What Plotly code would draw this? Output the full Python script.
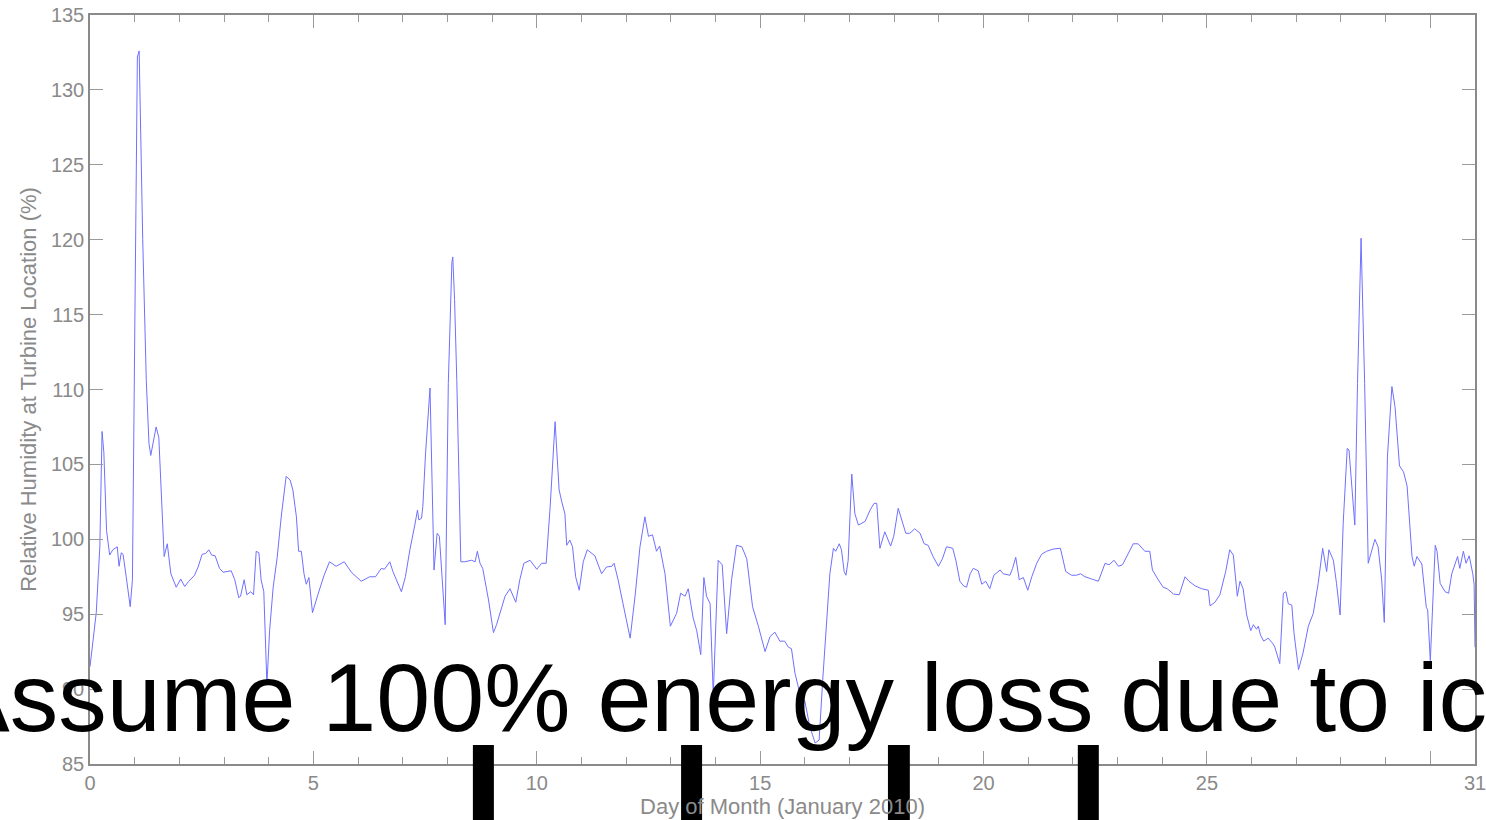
import plotly.graph_objects as go

# Relative humidity at the turbine location, January 2010 (day of month, %)
days = [
    0.00, 0.14, 0.22, 0.27, 0.31, 0.37, 0.44, 0.51, 0.61, 0.65, 0.70, 0.74, 0.81, 0.90, 0.95,
    1.06, 1.10, 1.18, 1.26, 1.32, 1.36, 1.41, 1.48, 1.54, 1.60, 1.66, 1.73, 1.81, 1.93,
    2.03, 2.12, 2.21, 2.34, 2.42, 2.51, 2.59, 2.66, 2.72, 2.80, 2.90, 2.98,
    3.16, 3.24, 3.33, 3.37, 3.45, 3.51, 3.60, 3.66, 3.72, 3.78, 3.83, 3.89, 3.96,
    4.02, 4.10, 4.19, 4.28, 4.39, 4.48, 4.54, 4.62, 4.67, 4.73, 4.79, 4.84, 4.90, 4.98,
    5.10, 5.24, 5.36, 5.51, 5.69, 5.85, 6.07, 6.26, 6.39, 6.52, 6.59, 6.71, 6.78, 6.88, 6.97,
    7.06, 7.16, 7.27, 7.33, 7.36, 7.42, 7.45, 7.51, 7.61, 7.70, 7.77, 7.82, 7.95,
    8.02, 8.10, 8.12, 8.16, 8.21, 8.30, 8.39, 8.54, 8.62, 8.67, 8.73, 8.79, 8.92,
    9.03, 9.10, 9.29, 9.40, 9.53, 9.62, 9.71, 9.85,
    10.00, 10.11, 10.21, 10.30, 10.41, 10.50, 10.56, 10.63, 10.67, 10.74, 10.80, 10.87, 10.95,
    11.04, 11.13, 11.30, 11.45, 11.56, 11.68, 11.73, 11.82, 11.94,
    12.09, 12.20, 12.31, 12.42, 12.50, 12.59, 12.68, 12.75, 12.87, 12.99,
    13.13, 13.22, 13.32, 13.39, 13.50, 13.58, 13.67, 13.74, 13.80, 13.88, 13.95,
    14.06, 14.15, 14.25, 14.36, 14.47, 14.59, 14.70, 14.83, 14.96,
    15.11, 15.22, 15.33, 15.44, 15.55, 15.63, 15.70, 15.78, 15.89,
    16.00, 16.11, 16.23, 16.32, 16.40, 16.49, 16.56, 16.64, 16.69, 16.77, 16.82, 16.88, 16.92, 16.97,
    17.05, 17.12, 17.20, 17.35, 17.46, 17.55, 17.61, 17.68, 17.79, 17.92, 17.99,
    18.09, 18.17, 18.26, 18.35, 18.46, 18.58, 18.67, 18.76, 18.87, 18.99,
    19.08, 19.17, 19.31, 19.38, 19.47, 19.55, 19.62, 19.70, 19.77, 19.88, 19.96,
    20.05, 20.14, 20.23, 20.37, 20.44, 20.59, 20.65, 20.72, 20.80, 20.89, 20.99,
    21.08, 21.19, 21.30, 21.41, 21.56, 21.72, 21.78, 21.84, 21.97,
    22.08, 22.17, 22.27, 22.42, 22.57, 22.72, 22.81, 22.92,
    23.02, 23.11, 23.24, 23.35, 23.46, 23.61, 23.72, 23.78, 23.91,
    24.02, 24.11, 24.25, 24.38, 24.51, 24.60, 24.73, 24.88,
    25.03, 25.07, 25.18, 25.29, 25.42, 25.51, 25.59, 25.68, 25.74, 25.81, 25.89, 25.98,
    26.04, 26.11, 26.15, 26.20, 26.27, 26.37, 26.47, 26.52, 26.63, 26.71, 26.77, 26.82, 26.90, 26.95,
    27.05, 27.15, 27.27, 27.38, 27.49, 27.59, 27.68, 27.73, 27.83, 27.90, 27.98,
    28.05, 28.14, 28.18, 28.31, 28.37, 28.45, 28.53, 28.61, 28.76, 28.83, 28.91, 28.97,
    29.04, 29.14, 29.21, 29.31, 29.40, 29.48, 29.59, 29.64, 29.70, 29.81, 29.91, 29.94,
    30.00, 30.11, 30.15, 30.22, 30.33, 30.41, 30.48, 30.56, 30.61, 30.66, 30.74, 30.80, 30.87,
    30.95, 30.98, 31.00,
]

humidity = [
    91.5, 95.1, 99.5, 107.2, 105.8, 100.6, 98.95, 99.3, 99.5, 98.2, 99.1, 99.0, 97.5, 95.5, 97.3,
    132.2, 132.6, 120.0, 110.6, 106.4, 105.6, 106.3, 107.5, 106.8, 102.2, 98.85, 99.7, 97.7, 96.8,
    97.35, 96.85, 97.2, 97.6, 98.15, 99.0, 99.05, 99.3, 98.95, 98.9, 98.06, 97.8,
    97.9, 97.3, 96.1, 96.2, 97.3, 96.3, 96.5, 96.3, 99.2, 99.1, 97.3, 96.5, 90.3,
    93.9, 96.8, 98.8, 101.5, 104.2, 103.96, 103.3, 101.5, 99.2, 99.2, 97.7, 97.0, 97.45, 95.1,
    96.3, 97.6, 98.5, 98.2, 98.5, 97.8, 97.2, 97.5, 97.5, 98.06, 98.0, 98.5, 97.85, 97.2, 96.5,
    97.5, 99.3, 100.95, 101.95, 101.3, 101.4, 102.2, 105.7, 110.1, 97.95, 100.4, 100.2, 94.3,
    110.4, 118.5, 118.85, 116.0, 110.6, 98.5, 98.5, 98.6, 98.5, 99.2, 98.4, 98.06, 95.95,
    93.77, 94.3, 96.2, 96.7, 95.8, 97.3, 98.4, 98.6,
    98.0, 98.4, 98.4, 102.2, 107.85, 103.3, 102.5, 101.7, 99.6, 99.95, 99.5, 97.5, 96.6,
    98.5, 99.3, 98.9, 97.7, 98.15, 98.2, 98.4, 97.3, 95.5,
    93.4, 96.2, 99.5, 101.5, 100.2, 100.3, 99.2, 99.55, 97.7, 94.2,
    95.06, 96.4, 96.2, 96.7, 94.75, 93.9, 92.3, 97.45, 96.2, 95.7, 89.6,
    98.6, 98.3, 93.7, 97.3, 99.6, 99.5, 98.7, 95.5, 94.2,
    92.5, 93.5, 93.8, 93.2, 93.2, 92.8, 92.7, 91.05, 89.7,
    89.2, 87.5, 86.4, 86.6, 90.6, 95.06, 97.7, 99.4, 99.2, 99.7, 99.3, 97.85, 97.6, 98.6,
    104.36, 101.7, 100.95, 101.2, 101.95, 102.4, 102.4, 99.4, 100.5, 99.55, 100.2,
    102.07, 101.3, 100.4, 100.4, 100.7, 100.4, 99.7, 99.6, 98.85, 98.2,
    98.7, 99.5, 99.4, 98.6, 97.2, 96.9, 96.8, 97.7, 98.06, 97.9, 97.0,
    97.2, 96.7, 97.6, 97.95, 97.7, 97.6, 98.06, 98.8, 97.3, 97.45, 96.6,
    97.5, 98.4, 99.0, 99.2, 99.35, 99.4, 98.6, 97.85, 97.6,
    97.6, 97.7, 97.5, 97.35, 97.2, 98.4, 98.3, 98.6,
    98.2, 98.3, 99.05, 99.7, 99.7, 99.2, 99.2, 97.95, 97.3,
    96.8, 96.7, 96.35, 96.3, 97.5, 97.2, 96.9, 96.7,
    96.6, 95.55, 95.8, 96.3, 97.85, 99.3, 98.95, 96.2, 97.2, 96.7, 94.95, 93.9,
    94.3, 94.0, 94.2, 93.6, 93.2, 93.4, 93.06, 92.8, 91.7, 96.4, 96.5, 95.7, 95.6, 93.7,
    91.3, 92.4, 94.2, 95.06, 97.06, 99.4, 97.85, 99.3, 98.6, 97.06, 94.95,
    101.07, 106.07, 105.96, 100.95, 110.4, 120.1, 110.4, 98.4, 100.0, 99.5, 97.35, 94.45,
    105.5, 110.2, 108.85, 104.9, 104.5, 103.56, 98.85, 98.2, 98.85, 98.35, 95.46, 95.3,
    91.9, 99.6, 99.2, 97.06, 96.5, 96.4, 97.7, 98.5, 98.85, 98.06, 99.2, 98.4, 98.9,
    97.7, 97.0, 92.8,
]

x_tickvals = [0, 5, 10, 15, 20, 25, 30, 31]
x_ticktext = ["0", "5", "10", "15", "20", "25", "", "31"]
y_tickvals = [85, 90, 95, 100, 105, 110, 115, 120, 125, 130, 135]

# Solid black markers sitting on the bottom axis, given as day ranges
marker_spans = [(8.57, 9.04), (13.23, 13.70), (17.86, 18.35), (22.11, 22.58)]

banner_text = "Assume 100% energy loss due to ice"

FONT = "Helvetica Neue, Helvetica, Liberation Sans, Arial, sans-serif"
AXIS_GREY = "#8a8a8a"

fig = go.Figure()
fig.add_trace(go.Scatter(
    x=days, y=humidity, mode="lines",
    line=dict(color="rgb(112,112,255)", width=1),
    showlegend=False, hoverinfo="skip",
))

axis_common = dict(
    showgrid=False, zeroline=False,
    showline=True, linecolor=AXIS_GREY, linewidth=1.5,
    mirror="ticks", ticks="inside", ticklen=13, tickwidth=1, tickcolor="#9a9a9a",
    tickfont=dict(family=FONT, size=20, color="#8a8a8a"),
    ticklabeloverflow="allow",
)

fig.update_xaxes(
    range=[0, 31], tickmode="array", tickvals=x_tickvals, ticktext=x_ticktext,
    minor=dict(dtick=1, tick0=0, ticks="inside", ticklen=7, tickcolor="#9a9a9a", tickwidth=1),
    title=dict(text="Day of Month (January 2010)", standoff=5,
               font=dict(family=FONT, size=22, color="#8a8a8a")),
    **axis_common,
)
fig.update_yaxes(
    range=[85, 135], tickmode="array", tickvals=y_tickvals,
    title=dict(text="Relative Humidity at Turbine Location (%)", standoff=8,
               font=dict(family=FONT, size=22, color="#8a8a8a")),
    **axis_common,
)

for x0, x1 in marker_spans:
    fig.add_shape(type="rect", xref="x", yref="paper", x0=x0, x1=x1,
                  y0=0.0254, y1=-0.09, fillcolor="black", line=dict(width=0),
                  layer="above")

fig.add_annotation(
    text=banner_text, xref="paper", yref="paper", x=0.4715, y=0.089,
    xanchor="center", yanchor="middle", showarrow=False,
    font=dict(family="Liberation Sans, Arial, sans-serif", size=97, color="black"),
)

fig.update_layout(
    width=1486, height=820,
    margin=dict(l=90, r=11, t=15, b=56, autoexpand=False),
    paper_bgcolor="white", plot_bgcolor="white",
)

fig.write_html("out.html")
